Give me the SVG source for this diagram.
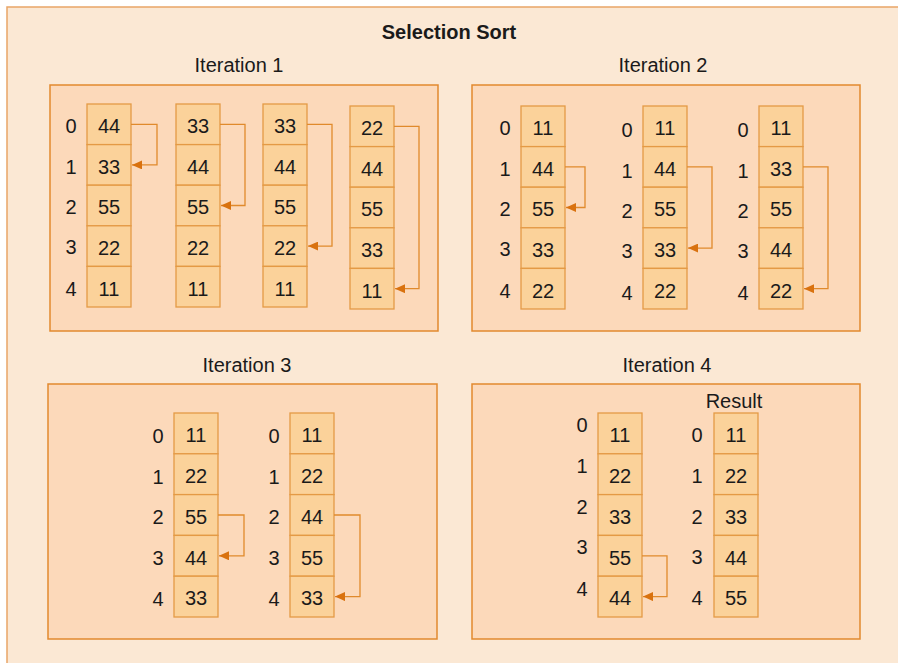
<svg xmlns="http://www.w3.org/2000/svg" width="898" height="663" viewBox="0 0 898 663">
<style>
.bg{fill:#FBE8D4;stroke:#E9A567;stroke-width:1.5}
.box{fill:#FCD9BA;stroke:#E2892E;stroke-width:1.5}
.cell{fill:#FBD29A;stroke:#E49A45;stroke-width:1.3}
text{font-family:"Liberation Sans",Arial,sans-serif;fill:#1a1a1a}
.v{font-size:20px;text-anchor:middle}
.t{font-size:20px;text-anchor:middle}
.h{font-size:20px;font-weight:bold;text-anchor:middle}
.c{fill:none;stroke:#E08A2C;stroke-width:1.3}
</style>
<defs>
<marker id="ah" markerUnits="userSpaceOnUse" markerWidth="10" markerHeight="9" refX="10" refY="4.5" orient="auto">
<path d="M0,0 L10,4.5 L0,9 Z" fill="#D9720F"/>
</marker>
<g id="col5"><rect class="cell" x="0" y="0" width="44" height="40.6"/><rect class="cell" x="0" y="40.6" width="44" height="40.6"/><rect class="cell" x="0" y="81.2" width="44" height="40.6"/><rect class="cell" x="0" y="121.8" width="44" height="40.6"/><rect class="cell" x="0" y="162.4" width="44" height="40.6"/></g>
<g id="col5b"><rect class="cell" x="0" y="0" width="44" height="40.8"/><rect class="cell" x="0" y="40.8" width="44" height="40.8"/><rect class="cell" x="0" y="81.6" width="44" height="40.8"/><rect class="cell" x="0" y="122.4" width="44" height="40.8"/><rect class="cell" x="0" y="163.2" width="44" height="40.8"/></g>
</defs>
<rect class="bg" x="7" y="7" width="900" height="670"/>
<text id="title" class="h" x="449" y="39">Selection Sort</text>

<g id="iter1">
<text class="t" x="239" y="72">Iteration 1</text>
<rect class="box" x="50" y="85" width="388" height="246"/>
</g>
<g id="iter2">
<text class="t" x="663" y="72">Iteration 2</text>
<rect class="box" x="472" y="85" width="388" height="246"/>
</g>
<g id="iter3">
<text class="t" x="247" y="372">Iteration 3</text>
<rect class="box" x="48" y="384" width="389" height="255"/>
</g>
<g id="iter4">
<text class="t" x="667" y="372">Iteration 4</text>
<rect class="box" x="472" y="384" width="388" height="255"/>
</g>

<g id="i1a1">
<use href="#col5" x="87" y="104"/>
<text class="v" x="71" y="132.5">0</text><text class="v" x="71" y="173.5">1</text><text class="v" x="71" y="214">2</text><text class="v" x="71" y="253.5">3</text><text class="v" x="71" y="296">4</text>
<text class="v" x="109" y="132.5">44</text><text class="v" x="109" y="173.5">33</text><text class="v" x="109" y="214">55</text><text class="v" x="109" y="254.5">22</text><text class="v" x="109" y="295.5">11</text>
</g>
<g id="i1a2">
<use href="#col5" x="176" y="104"/>
<text class="v" x="198" y="132.5">33</text><text class="v" x="198" y="173.5">44</text><text class="v" x="198" y="214">55</text><text class="v" x="198" y="254.5">22</text><text class="v" x="198" y="295.5">11</text>
</g>
<g id="i1a3">
<use href="#col5" x="263" y="104"/>
<text class="v" x="285" y="132.5">33</text><text class="v" x="285" y="173.5">44</text><text class="v" x="285" y="214">55</text><text class="v" x="285" y="254.5">22</text><text class="v" x="285" y="295.5">11</text>
</g>
<g id="i1a4">
<use href="#col5" x="350" y="106"/>
<text class="v" x="372" y="134.5">22</text><text class="v" x="372" y="175.5">44</text><text class="v" x="372" y="216">55</text><text class="v" x="372" y="256.5">33</text><text class="v" x="372" y="297.5">11</text>
</g>

<g id="i2a1">
<use href="#col5" x="521" y="106"/>
<text class="v" x="505" y="134.5">0</text><text class="v" x="505" y="175.5">1</text><text class="v" x="505" y="216">2</text><text class="v" x="505" y="255.5">3</text><text class="v" x="505" y="297.5">4</text>
<text class="v" x="543" y="134.5">11</text><text class="v" x="543" y="175.5">44</text><text class="v" x="543" y="216">55</text><text class="v" x="543" y="256.5">33</text><text class="v" x="543" y="297.5">22</text>
</g>
<g id="i2a2">
<use href="#col5" x="643" y="106"/>
<text class="v" x="627" y="136.5">0</text><text class="v" x="627" y="177.5">1</text><text class="v" x="627" y="218">2</text><text class="v" x="627" y="257.5">3</text><text class="v" x="627" y="299.5">4</text>
<text class="v" x="665" y="134.5">11</text><text class="v" x="665" y="175.5">44</text><text class="v" x="665" y="216">55</text><text class="v" x="665" y="256.5">33</text><text class="v" x="665" y="297.5">22</text>
</g>
<g id="i2a3">
<use href="#col5" x="759" y="106"/>
<text class="v" x="743" y="136.5">0</text><text class="v" x="743" y="177.5">1</text><text class="v" x="743" y="218">2</text><text class="v" x="743" y="257.5">3</text><text class="v" x="743" y="299.5">4</text>
<text class="v" x="781" y="134.5">11</text><text class="v" x="781" y="175.5">33</text><text class="v" x="781" y="216">55</text><text class="v" x="781" y="256.5">44</text><text class="v" x="781" y="297.5">22</text>
</g>

<g id="i3a1">
<use href="#col5b" x="174" y="413"/>
<text class="v" x="158" y="442.5">0</text><text class="v" x="158" y="483.5">1</text><text class="v" x="158" y="524">2</text><text class="v" x="158" y="564.5">3</text><text class="v" x="158" y="605.5">4</text>
<text class="v" x="196" y="442">11</text><text class="v" x="196" y="482.5">22</text><text class="v" x="196" y="523.5">55</text><text class="v" x="196" y="564.5">44</text><text class="v" x="196" y="605">33</text>
</g>
<g id="i3a2">
<use href="#col5b" x="290" y="413"/>
<text class="v" x="274" y="442.5">0</text><text class="v" x="274" y="483.5">1</text><text class="v" x="274" y="524">2</text><text class="v" x="274" y="564.5">3</text><text class="v" x="274" y="605.5">4</text>
<text class="v" x="312" y="442">11</text><text class="v" x="312" y="482.5">22</text><text class="v" x="312" y="523.5">44</text><text class="v" x="312" y="564.5">55</text><text class="v" x="312" y="605">33</text>
</g>

<g id="i4a1">
<use href="#col5b" x="598" y="413"/>
<text class="v" x="582" y="432">0</text><text class="v" x="582" y="473">1</text><text class="v" x="582" y="514">2</text><text class="v" x="582" y="554">3</text><text class="v" x="582" y="596">4</text>
<text class="v" x="620" y="442">11</text><text class="v" x="620" y="482.5">22</text><text class="v" x="620" y="523.5">33</text><text class="v" x="620" y="564.5">55</text><text class="v" x="620" y="605">44</text>
</g>
<g id="i4result">
<text class="t" x="734" y="408">Result</text>
<use href="#col5b" x="714" y="413"/>
<text class="v" x="697" y="442">0</text><text class="v" x="697" y="483">1</text><text class="v" x="697" y="523.5">2</text><text class="v" x="697" y="563.5">3</text><text class="v" x="697" y="604.5">4</text>
<text class="v" x="736" y="442">11</text><text class="v" x="736" y="482.5">22</text><text class="v" x="736" y="523.5">33</text><text class="v" x="736" y="564.5">44</text><text class="v" x="736" y="605">55</text>
</g>

<g id="connectors">
<path class="c" d="M131,124.3 H157 V164.9 H132" marker-end="url(#ah)"/>
<path class="c" d="M220,124.3 H245 V205.5 H221" marker-end="url(#ah)"/>
<path class="c" d="M307,124.3 H332 V246.1 H308" marker-end="url(#ah)"/>
<path class="c" d="M394,126.3 H419 V288.7 H395" marker-end="url(#ah)"/>
<path class="c" d="M565,166.9 H585 V207.5 H566" marker-end="url(#ah)"/>
<path class="c" d="M687,166.9 H712 V248.1 H688" marker-end="url(#ah)"/>
<path class="c" d="M803,166.9 H828 V288.7 H804" marker-end="url(#ah)"/>
<path class="c" d="M218,515 H244 V555.8 H219" marker-end="url(#ah)"/>
<path class="c" d="M334,515 H360 V596.6 H335" marker-end="url(#ah)"/>
<path class="c" d="M642,555.8 H667 V596.6 H643" marker-end="url(#ah)"/>
</g>
</svg>
